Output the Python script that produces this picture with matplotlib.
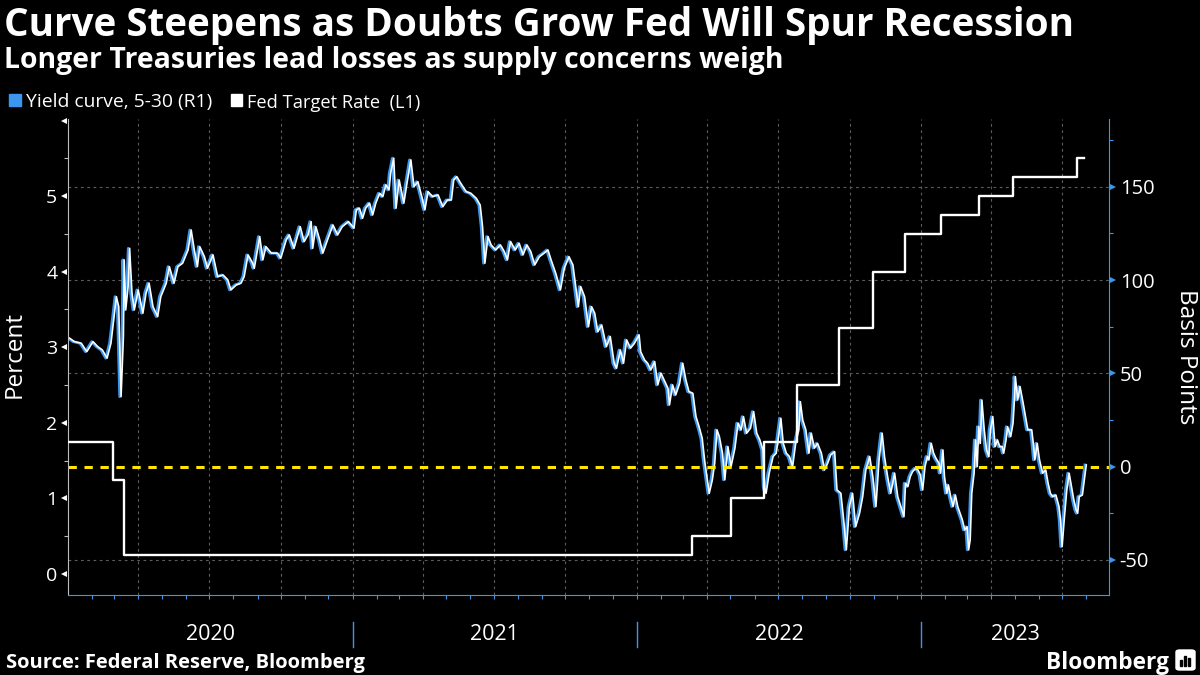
import matplotlib
matplotlib.use('Agg')
import matplotlib.pyplot as plt
import matplotlib.dates as mdates
import matplotlib.transforms as mtransforms
from matplotlib.patches import Rectangle, FancyBboxPatch
from matplotlib.lines import Line2D
import numpy as np
import pandas as pd

plt.rcParams['font.family'] = ['Open Sans', 'DejaVu Sans']
plt.rcParams['lines.scale_dashes'] = False

# ---------------- text ----------------
TITLE = "Curve Steepens as Doubts Grow Fed Will Spur Recession"
SUBTITLE = "Longer Treasuries lead losses as supply concerns weigh"
SOURCE = "Source: Federal Reserve, Bloomberg"
LEGEND_LABELS = ["Yield curve, 5-30 (R1)", "Fed Target Rate  (L1)"]
LEFT_LABEL = "Percent"
RIGHT_LABEL = "Basis Points"
YEAR_LABELS = ["2020", "2021", "2022", "2023"]
BRAND = "Bloomberg"

# ---------------- data ----------------
curve_dates = [
    "2020-01-02", "2020-01-08", "2020-01-17", "2020-01-24", "2020-02-01", "2020-02-07", "2020-02-13",
    "2020-02-19", "2020-02-24", "2020-02-28", "2020-03-02", "2020-03-05", "2020-03-07", "2020-03-08",
    "2020-03-11", "2020-03-12", "2020-03-14", "2020-03-17", "2020-03-19", "2020-03-22", "2020-03-25",
    "2020-03-30", "2020-04-05", "2020-04-09", "2020-04-13", "2020-04-18", "2020-04-24", "2020-04-28",
    "2020-05-05", "2020-05-09", "2020-05-15", "2020-05-20", "2020-05-26", "2020-06-02", "2020-06-06",
    "2020-06-10", "2020-06-14", "2020-06-17", "2020-06-23", "2020-06-27", "2020-07-04", "2020-07-10",
    "2020-07-17", "2020-07-23", "2020-07-27", "2020-08-03", "2020-08-09", "2020-08-13", "2020-08-18",
    "2020-08-24", "2020-08-26", "2020-09-02", "2020-09-06", "2020-09-10", "2020-09-17", "2020-09-25",
    "2020-09-29", "2020-10-06", "2020-10-10", "2020-10-16", "2020-10-24", "2020-10-29", "2020-11-03",
    "2020-11-07", "2020-11-09", "2020-11-13", "2020-11-18", "2020-11-22", "2020-11-28", "2020-12-05",
    "2020-12-11", "2020-12-17", "2020-12-25", "2021-01-01",
    "2021-01-04", "2021-01-08", "2021-01-12", "2021-01-16", "2021-01-21", "2021-01-25", "2021-01-29",
    "2021-02-03", "2021-02-07", "2021-02-11", "2021-02-15", "2021-02-17", "2021-02-21", "2021-02-24",
    "2021-02-28", "2021-03-06", "2021-03-10", "2021-03-15", "2021-03-19", "2021-03-24", "2021-03-29",
    "2021-04-02", "2021-04-06", "2021-04-12", "2021-04-19", "2021-04-25", "2021-05-01", "2021-05-06",
    "2021-05-09", "2021-05-13", "2021-05-18", "2021-05-25", "2021-05-31", "2021-06-07", "2021-06-12",
    "2021-06-15", "2021-06-18", "2021-06-22", "2021-06-26", "2021-07-02", "2021-07-08", "2021-07-13",
    "2021-07-17", "2021-07-21", "2021-07-27", "2021-08-01", "2021-08-06", "2021-08-11", "2021-08-16",
    "2021-08-21", "2021-08-27", "2021-09-02", "2021-09-07", "2021-09-11", "2021-09-17", "2021-09-23",
    "2021-09-28", "2021-10-04", "2021-10-09", "2021-10-12", "2021-10-16", "2021-10-19", "2021-10-24",
    "2021-10-29", "2021-11-02", "2021-11-06", "2021-11-10", "2021-11-15", "2021-11-21", "2021-11-26",
    "2021-12-01", "2021-12-04", "2021-12-09", "2021-12-13", "2021-12-17", "2021-12-22",
    "2021-12-27", "2022-01-02", "2022-01-04", "2022-01-09", "2022-01-13", "2022-01-17", "2022-01-22",
    "2022-01-26", "2022-01-30", "2022-02-03", "2022-02-08", "2022-02-10", "2022-02-14", "2022-02-18",
    "2022-02-23", "2022-02-27", "2022-03-03", "2022-03-07", "2022-03-12", "2022-03-16", "2022-03-20",
    "2022-03-24", "2022-03-27", "2022-03-30", "2022-04-02", "2022-04-06", "2022-04-09", "2022-04-12",
    "2022-04-15", "2022-04-19", "2022-04-22", "2022-04-26", "2022-04-30", "2022-05-05", "2022-05-09",
    "2022-05-13", "2022-05-16", "2022-05-20", "2022-05-25", "2022-05-29", "2022-06-02", "2022-06-06",
    "2022-06-10", "2022-06-12", "2022-06-14", "2022-06-18", "2022-06-23", "2022-06-27", "2022-06-30",
    "2022-07-03", "2022-07-06", "2022-07-10", "2022-07-14", "2022-07-18", "2022-07-22", "2022-07-26",
    "2022-07-28", "2022-07-31", "2022-08-04", "2022-08-08", "2022-08-11", "2022-08-15", "2022-08-19",
    "2022-08-24", "2022-08-28", "2022-09-01", "2022-09-05", "2022-09-10", "2022-09-13", "2022-09-18",
    "2022-09-22", "2022-09-25", "2022-09-29", "2022-10-03", "2022-10-07", "2022-10-12", "2022-10-16",
    "2022-10-20", "2022-10-25", "2022-10-29", "2022-11-02", "2022-11-06", "2022-11-10", "2022-11-13",
    "2022-11-17", "2022-11-21", "2022-11-26", "2022-11-30", "2022-12-04", "2022-12-08",
    "2022-12-10", "2022-12-13", "2022-12-16", "2022-12-19", "2022-12-23", "2022-12-26", "2022-12-29",
    "2023-01-01", "2023-01-04", "2023-01-07", "2023-01-09", "2023-01-12", "2023-01-15", "2023-01-18",
    "2023-01-22", "2023-01-24", "2023-01-27", "2023-01-29", "2023-02-01", "2023-02-03", "2023-02-06",
    "2023-02-09", "2023-02-12", "2023-02-15", "2023-02-18", "2023-02-21", "2023-02-24", "2023-02-27",
    "2023-03-01", "2023-03-03", "2023-03-05", "2023-03-08", "2023-03-10", "2023-03-12", "2023-03-14",
    "2023-03-16", "2023-03-18", "2023-03-21", "2023-03-24", "2023-03-27", "2023-03-29", "2023-04-01",
    "2023-04-04", "2023-04-07", "2023-04-10", "2023-04-13", "2023-04-15", "2023-04-18", "2023-04-20",
    "2023-04-24", "2023-04-27", "2023-04-29", "2023-04-30", "2023-05-03", "2023-05-06", "2023-05-10",
    "2023-05-13", "2023-05-16", "2023-05-21", "2023-05-23", "2023-05-25", "2023-05-28", "2023-05-31",
    "2023-06-04", "2023-06-08", "2023-06-11", "2023-06-14", "2023-06-17", "2023-06-21", "2023-06-25",
    "2023-06-27", "2023-06-29", "2023-07-02", "2023-07-05", "2023-07-08", "2023-07-11", "2023-07-14",
    "2023-07-17", "2023-07-19", "2023-07-21", "2023-07-25", "2023-07-28", "2023-07-30",
]
curve_bp = [
    68.8, 67.0, 66.1, 61.6, 67.0, 64.3, 62.5,
    58.1, 66.1, 80.4, 91.1, 85.7, 53.6, 37.5,
    69.7, 110.8, 84.0, 96.5, 117.0, 92.9, 84.0,
    94.7, 82.2, 92.9, 98.3, 85.7, 80.4, 91.1,
    98.3, 107.2, 98.3, 107.2, 109.0, 116.1, 126.8,
    116.1, 107.2, 117.9, 112.5, 106.3, 113.5, 101.8,
    102.7, 100.1, 94.7, 97.4, 98.3, 101.8, 113.5,
    109.0, 106.3, 123.3, 110.8, 117.9, 114.4, 114.4,
    111.7, 121.5, 124.2, 117.0, 128.6, 120.6, 124.2,
    131.3, 117.0, 128.6, 121.5, 114.4, 121.5, 129.5,
    124.2, 128.6, 131.3, 127.8,
    137.6, 138.5, 133.1, 138.5, 141.2, 134.9, 141.2,
    146.5, 144.7, 151.0, 148.3, 157.2, 165.3, 138.5,
    153.6, 141.2, 151.9, 164.4, 150.1, 152.7, 144.7,
    137.6, 147.4, 144.7, 145.6, 139.3, 142.9, 142.9,
    153.6, 155.4, 151.9, 147.4, 146.5, 143.8, 140.2,
    128.6, 109.0, 123.3, 118.8, 116.1, 118.8, 115.2,
    110.8, 120.6, 116.1, 119.7, 113.5, 118.8, 115.2,
    108.1, 112.5, 114.4, 116.1, 110.8, 103.6, 94.7,
    106.3, 112.5, 108.1, 98.3, 85.7, 96.5, 91.1,
    75.0, 85.7, 82.2, 72.3, 75.9, 64.3, 69.7,
    55.4, 52.7, 62.5, 55.4, 67.9, 63.5,
    66.1, 70.6, 61.6, 57.2, 55.4, 51.8, 56.3,
    43.8, 50.1, 46.5, 42.0, 33.1, 43.8, 38.4,
    44.7, 55.4, 46.5, 40.2, 39.3, 26.8, 21.4,
    15.2, 3.6, -5.4, -14.3, -7.1, 1.8, 19.7,
    16.1, 7.2, -7.1, 10.7, 0.0, 9.9, 23.3,
    19.7, 26.8, 17.9, 20.6, 29.5, 17.9, 14.3,
    8.9, -10.7, -14.3, -3.5, 5.4, 7.2, 16.1,
    25.9, 12.5, 7.2, 5.4, 0.0, 12.5, 19.7,
    34.8, 25.0, 19.7, 7.2, 17.9, 9.9, 12.5,
    7.2, -1.8, 1.8, 6.3, 8.0, -12.5, -14.3,
    -30.3, -44.6, -21.4, -14.3, -32.2, -25.0, -16.1,
    -1.8, 5.4, -5.4, -21.4, 3.6, 17.9, 5.4,
    -5.4, -14.3, -3.5, -16.1, -21.4, -26.8,
    -8.9, -10.7, -5.4, -2.7, -0.9, -1.8, -4.4,
    -12.5, 0.0, 5.4, 3.6, 12.5, 7.2, 4.5,
    1.8, -3.5, 8.9, -5.4, -14.3, -9.8, -16.1,
    -21.4, -15.2, -21.4, -25.0, -28.6, -33.9, -32.2,
    -44.6, -39.3, -14.3, -3.5, 14.3, 0.0, 21.4,
    12.5, 35.7, 19.7, 8.9, 5.4, 19.7, 26.8,
    10.7, 14.3, 10.7, 10.7, 7.2, 14.3, 21.4,
    16.1, 23.3, 37.5, 48.2, 35.7, 42.9, 34.0,
    26.8, 19.7, 19.7, 12.5, 3.6, 12.5, 3.6,
    -3.5, -1.8, -8.9, -14.3, -16.1, -15.2, -21.4,
    -28.6, -42.9, -26.8, -12.5, -3.5, -10.7, -17.8,
    -23.2, -25.0, -16.1, -15.2, -5.4, 0.9,
]

fed_dates = ["2020-01-01", "2020-02-29", "2020-03-13", "2022-03-13", "2022-05-02", "2022-06-13",
             "2022-07-25", "2022-09-17", "2022-10-31", "2022-12-11", "2023-01-26", "2023-03-16",
             "2023-04-29", "2023-07-20", "2023-07-29"]
fed_rate = [1.75, 1.25, 0.25, 0.50, 1.00, 1.75, 2.50, 3.25, 4.00, 4.50, 4.75, 5.00, 5.25, 5.50, 5.50]

left_ticks = [0, 1, 2, 3, 4, 5, 6]
left_tick_labels = ["0", "1", "2", "3", "4", "5", ""]
left_minor = [0.5, 1.5, 2.5, 3.5, 4.5, 5.5]
right_ticks = [-50, 0, 50, 100, 150]
right_tick_labels = ["-50", "0", "50", "100", "150"]
right_minor = [-25, 25, 75, 125, 175]
grid_bp = [-50, 50, 100, 150]
left_lim = (-0.278, 6.02)
right_lim = (-68.8, 186.3)
x_start = pd.Timestamp("2020-01-01 06:00")
x_end = pd.Timestamp("2023-08-30 08:00")

# ---------------- style ----------------
BLUE = "#3d96ee"
YELLOW = "#ffe600"
GRID = "#5c5c5c"
W, H = 1200, 675


def fx(x):
    return x / W


def fy(y):
    return 1 - y / H


fig = plt.figure(figsize=(12, 6.75), dpi=100, facecolor="black")
renderer = fig.canvas.get_renderer()

ax_l, ax_r, ax_t, ax_b = 67.7, 1109.3, 119.0, 595.0
ax = fig.add_axes([fx(ax_l), fy(ax_b), (ax_r - ax_l) / W, (ax_b - ax_t) / H])
ax2 = ax.twinx()
ax.set_zorder(ax2.get_zorder() + 1)
ax.patch.set_visible(False)
ax2.set_facecolor("black")

cd = pd.to_datetime(curve_dates)
fd = pd.to_datetime(fed_dates)

# grid on the right axis (behind)
for v in grid_bp:
    ax2.axhline(v, color=GRID, lw=0.8, ls=(0, (2, 2.5)), zorder=0.5)
for q in pd.date_range("2020-04-01", "2023-07-01", freq="QS"):
    ax2.axvline(q, color=GRID, lw=0.8, ls=(0, (2, 2.5)), zorder=0.5)

# yield curve: blue line with a white highlight
ax2.plot(cd, curve_bp, color=BLUE, lw=2.0, zorder=3)
hl = mtransforms.offset_copy(ax2.transData, fig=fig, x=1.4, y=0, units="dots")
ax2.plot(cd, curve_bp, color="white", lw=1.15, zorder=4, transform=hl)
ax2.axhline(0, color=YELLOW, lw=2.2, ls=(0, (6, 5.5)), zorder=5)

# fed target rate
ax.plot(fd, fed_rate, drawstyle="steps-post", color="white", lw=1.7, zorder=6)

ax.set_xlim(x_start, x_end)
ax.set_ylim(*left_lim)
ax2.set_ylim(*right_lim)

# spines
for s in ["top", "right"]:
    ax.spines[s].set_visible(False)
ax.spines["left"].set_color("#bdbdbd")
ax.spines["bottom"].set_color(BLUE)
for s in ["top", "left", "bottom"]:
    ax2.spines[s].set_visible(False)
ax2.spines["right"].set_color(BLUE)

# x ticks (monthly)
ax.xaxis.set_major_locator(mdates.MonthLocator())
ax.tick_params(axis="x", which="major", length=3.2, width=0.8, color=BLUE, labelbottom=False)

# left ticks
ax.set_yticks(left_ticks, left_tick_labels)
ax.set_yticks(left_minor, minor=True)
ax.tick_params(axis="y", which="major", length=0, pad=7.5, labelsize=14, labelcolor="white")
ax.tick_params(axis="y", which="minor", length=2.7, width=0.8, color="#bdbdbd")

# right ticks
ax2.set_yticks(right_ticks, right_tick_labels)
ax2.set_yticks(right_minor, minor=True)
ax2.tick_params(axis="y", which="major", length=0, pad=7.5, labelsize=14.5, labelcolor="white")
ax2.tick_params(axis="y", which="minor", length=2.7, width=0.8, color=BLUE)

# triangle tick markers
tl = mtransforms.offset_copy(mtransforms.blended_transform_factory(ax.transAxes, ax.transData),
                             fig=fig, x=-3.3, y=0, units="dots")
ax.plot([0] * len(left_ticks), left_ticks, ls="none", marker="<", ms=5, color="white",
        mew=0, transform=tl, clip_on=False, zorder=10)
tr = mtransforms.offset_copy(mtransforms.blended_transform_factory(ax2.transAxes, ax2.transData),
                             fig=fig, x=3.3, y=0, units="dots")
ax2.plot([1] * len(right_ticks), right_ticks, ls="none", marker=">", ms=5, color=BLUE,
         mew=0, transform=tr, clip_on=False, zorder=10)

# year labels and separators
bt = mtransforms.blended_transform_factory(ax.transData, fig.transFigure)
bounds = [x_start] + [pd.Timestamp(f"{y}-01-01") for y in (2021, 2022, 2023)] + [x_end]
for i, lab in enumerate(YEAR_LABELS):
    mid = bounds[i] + (bounds[i + 1] - bounds[i]) / 2
    ax.text(mid, fy(635), lab, transform=bt, ha="center", va="center", fontsize=15.5,
            color="white", clip_on=False)
for b in bounds[1:-1]:
    ln = Line2D([b, b], [fy(622), fy(647)], transform=bt, color=BLUE, lw=1.0, clip_on=False)
    ax.add_artist(ln)

# axis titles
fig.text(fx(15), fy(355), LEFT_LABEL, rotation=90, ha="center", va="center", fontsize=17.5, color="white")
fig.text(fx(1186), fy(357), RIGHT_LABEL, rotation=270, ha="center", va="center", fontsize=17.5, color="white")


def fit_text(x, y, s, width_px, size, weight="normal"):
    t = fig.text(fx(x), fy(y), s, fontsize=size, fontweight=weight, color="white",
                 ha="left", va="baseline")
    w = t.get_window_extent(renderer).width
    t.set_fontsize(size * width_px / w)
    return t


fit_text(4, 36, TITLE, 1071, 24, "bold")
fit_text(4, 68.3, SUBTITLE, 778, 17, "bold")
fit_text(6, 667.7, SOURCE, 356, 13, "bold")

# legend
fig.patches.append(Rectangle((fx(9.3), fy(106)), 11.4 / W, 12 / H, transform=fig.transFigure,
                             color=BLUE, zorder=5))
fig.patches.append(Rectangle((fx(231), fy(106)), 11.4 / W, 12 / H, transform=fig.transFigure,
                             color="white", zorder=5))
fit_text(25.7, 107.5, LEGEND_LABELS[0], 186, 13.5)
fit_text(246.7, 107.5, LEGEND_LABELS[1], 173, 13.5)

# brand
fit_text(1046, 669, BRAND, 123, 16, "bold")
fig.patches.append(FancyBboxPatch((fx(1176), fy(670)), 19 / W, 20 / H, transform=fig.transFigure,
                                  boxstyle="round,pad=0,rounding_size=0.003", color="white", zorder=5))
for bx, bh in [(1180, 6), (1184, 10), (1188, 8)]:
    fig.patches.append(Rectangle((fx(bx), fy(666)), 2.2 / W, bh / H, transform=fig.transFigure,
                                 color="black", zorder=6))

fig.savefig("out.png", dpi=100, facecolor="black")
